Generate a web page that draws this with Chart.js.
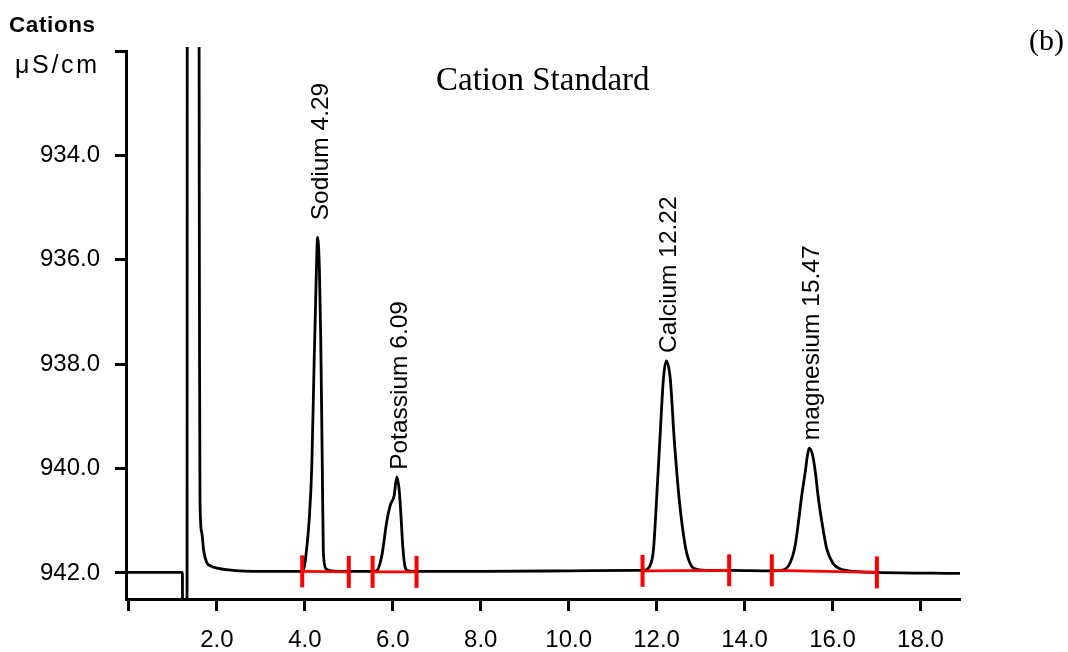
<!DOCTYPE html>
<html>
<head>
<meta charset="utf-8">
<script src="https://cdn.jsdelivr.net/npm/chart.js@4.4.0/dist/chart.umd.min.js"></script>
<style>
  html, body { margin: 0; padding: 0; background: #fff; }
  #wrap { width: 1068px; height: 652px; position: relative; }
</style>
</head>
<body>
<div id="wrap"><canvas id="c" width="1068" height="652"></canvas></div>
<script>
// Retention time (min) and conductivity (µS/cm) of the recorded trace
const traceTime = [
  -0.07, 1.215, 1.22, 1.32, 1.325, 1.592, 1.598, 1.605, 1.615, 1.654, 1.70, 1.768, 1.87, 1.956, 2.366, 3.0, 3.9, 3.97,
  4.004, 4.10, 4.156, 4.208, 4.254, 4.29, 4.33, 4.36, 4.397, 4.42, 4.48, 4.6, 5.0,
  5.55, 5.634, 5.75, 5.86, 5.94, 6.03, 6.09, 6.15, 6.19, 6.226, 6.28, 6.35, 6.6,
  8.0, 10.0, 11.5, 11.70, 11.85, 11.93, 12.00, 12.08, 12.155, 12.22, 12.31, 12.40, 12.52, 12.65, 12.72, 12.84, 13.14, 13.7,
  14.6, 14.885, 15.04, 15.15, 15.225, 15.30, 15.38, 15.43, 15.47, 15.55, 15.61, 15.68, 15.76, 15.87, 16.02, 16.17, 16.48, 17.0, 18.9
];
const traceSignal = [
  941.99, 941.99, 943.5, 943.5, 930.5, 930.5, 934.5, 938.0, 940.64, 941.22, 941.58, 941.80, 941.87, 941.90, 941.95, 941.97, 941.97, 941.93,
  941.80, 940.96, 940.00, 938.08, 936.48, 935.57, 936.16, 937.44, 940.00, 941.60, 941.92, 941.96, 941.97,
  941.97, 941.96, 941.67, 941.03, 940.71, 940.52, 940.16, 940.45, 940.96, 941.48, 941.89, 941.96, 941.97,
  941.97, 941.96, 941.95, 941.95, 941.86, 941.54, 940.58, 939.36, 938.28, 937.94, 938.28, 939.43, 940.64, 941.48, 941.73, 941.91, 941.95, 941.95,
  941.96, 941.94, 941.80, 941.48, 941.03, 940.52, 940.07, 939.75, 939.61, 939.75, 940.07, 940.58, 941.03, 941.54, 941.83, 941.92, 941.97, 941.99, 942.01
];

// Identified peaks
const peakNames = ['Sodium', 'Potassium', 'Calcium', 'magnesium'];
const peakTimes = [4.29, 6.09, 12.22, 15.47];
const peakSignals = [935.57, 940.16, 937.94, 939.61];

// Integration windows (start / end time and baseline level)
const intStart = [3.94, 5.54, 11.68, 14.62];
const intEnd = [5.00, 6.54, 13.65, 17.01];
const intStartLevel = [941.97, 941.98, 941.96, 941.95];
const intEndLevel = [941.98, 941.98, 941.95, 941.99];

// Axis ticks
const xTickValues = [0, 2, 4, 6, 8, 10, 12, 14, 16, 18];
const yTickValues = [932, 934, 936, 938, 940, 942];

const SANS = "'Liberation Sans', Arial, sans-serif";
const SERIF = "'Liberation Serif', 'Times New Roman', serif";

const tracePoints = traceTime.map((t, i) => ({ x: t, y: traceSignal[i] }));
const integrationPoints = [];
intStart.forEach((s, i) => {
  integrationPoints.push({ x: s, y: intStartLevel[i] });
  integrationPoints.push({ x: intEnd[i], y: intEndLevel[i] });
  integrationPoints.push({ x: intEnd[i], y: null });
});

const peakLabels = {
  id: 'peakLabels',
  afterDatasetsDraw(chart, args, opts) {
    const { ctx, scales: { x, y } } = chart;
    ctx.save();
    ctx.font = `${opts.size}px ${SANS}`;
    ctx.fillStyle = '#000';
    ctx.textAlign = 'left';
    ctx.textBaseline = 'alphabetic';
    peakNames.forEach((name, i) => {
      const px = x.getPixelForValue(peakTimes[i]);
      const py = y.getPixelForValue(peakSignals[i]);
      ctx.save();
      ctx.translate(px + opts.shift, py - opts.gaps[i]);
      ctx.rotate(-Math.PI / 2);
      ctx.fillText(`${name} ${peakTimes[i].toFixed(2)}`, 0, 0);
      ctx.restore();
    });
    ctx.restore();
  }
};

const headings = {
  id: 'headings',
  afterDraw(chart) {
    const ctx = chart.ctx;
    ctx.save();
    ctx.fillStyle = '#000';
    ctx.textAlign = 'left';
    ctx.textBaseline = 'alphabetic';

    ctx.font = `bold 22.5px ${SANS}`;
    ctx.letterSpacing = '0.6px';
    ctx.fillText('Cations', 9, 32);

    ctx.font = `25px ${SANS}`;
    ctx.letterSpacing = '2.7px';
    ctx.fillText('μS/cm', 15, 73);

    ctx.letterSpacing = '0px';
    ctx.font = `33px ${SERIF}`;
    ctx.fillText('Cation Standard', 436, 90);

    ctx.font = `30px ${SERIF}`;
    ctx.fillText('(b)', 1029, 50);
    ctx.restore();
  }
};

new Chart(document.getElementById('c'), {
  type: 'line',
  data: {
    datasets: [
      {
        data: integrationPoints,
        borderColor: '#ff0000',
        borderWidth: 2.8,
        pointStyle: 'line',
        rotation: 90,
        pointRadius: 16,
        pointBorderWidth: 4,
        pointBorderColor: '#ff0000',
        pointBackgroundColor: '#ff0000',
        tension: 0,
        spanGaps: false,
        order: 0
      },
      {
        data: tracePoints,
        borderColor: '#000',
        borderWidth: 2.8,
        pointRadius: 0,
        cubicInterpolationMode: 'monotone',
        clip: { left: 0, top: 4, right: 0, bottom: 0 },
        order: 1
      }
    ]
  },
  options: {
    responsive: false,
    animation: false,
    events: [],
    devicePixelRatio: 1,
    layout: { padding: { top: 51, right: 108, left: 0, bottom: 0 } },
    plugins: {
      legend: { display: false },
      tooltip: { enabled: false },
      title: { display: false },
      peakLabels: { size: 24.5, shift: 10, gaps: [17, 7, 8, 8] }
    },
    scales: {
      x: {
        type: 'linear',
        min: -0.068,
        max: 18.9,
        afterBuildTicks: s => { s.ticks = xTickValues.map(v => ({ value: v })); },
        afterFit: s => { s.height = 53; },
        border: { display: true, color: '#000', width: 3 },
        grid: { display: true, drawOnChartArea: false, drawTicks: true, tickLength: 12, tickWidth: 3, tickColor: '#000' },
        ticks: {
          autoSkip: false, maxRotation: 0, minRotation: 0, padding: 15, color: '#000',
          font: { family: SANS, size: 24 },
          callback: v => (v === 0 ? '' : Number(v).toFixed(1))
        }
      },
      y: {
        type: 'linear',
        reverse: true,
        min: 932,
        max: 942.5,
        afterBuildTicks: s => { s.ticks = yTickValues.map(v => ({ value: v })); },
        afterFit: s => { s.width = 126; },
        border: { display: true, color: '#000', width: 3 },
        grid: { display: true, drawOnChartArea: false, drawTicks: true, tickLength: 11, tickWidth: 3, tickColor: '#000' },
        ticks: {
          autoSkip: false, padding: 15, color: '#000',
          font: { family: SANS, size: 24 },
          callback: v => (v === 932 ? '' : Number(v).toFixed(1))
        }
      }
    }
  },
  plugins: [peakLabels, headings]
});
</script>
</body>
</html>
